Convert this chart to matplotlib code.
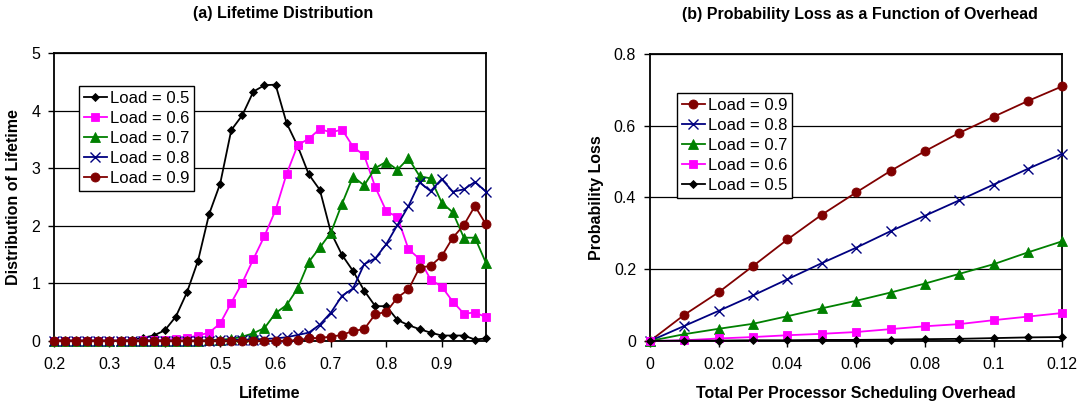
import numpy as np
import matplotlib
matplotlib.use("Agg")
import matplotlib.pyplot as plt

plt.rcParams["font.family"] = ["Liberation Sans", "DejaVu Sans"]

# ---------------------------------------------------------------------------
# Data: (a) lifetime distribution, lifetime 0.20 .. 0.98 step 0.02
# ---------------------------------------------------------------------------
lifetime = np.round(np.arange(0.20, 0.981, 0.02), 2)

dist_05 = [0, 0, 0, 0, 0, 0, 0, 0.01, 0.05, 0.09,
           0.18, 0.42, 0.84, 1.39, 2.20, 2.73, 3.66, 3.92, 4.33, 4.44,
           4.45, 3.78, 3.38, 2.89, 2.62, 1.88, 1.49, 1.21, 0.87, 0.60,
           0.60, 0.36, 0.27, 0.20, 0.14, 0.09, 0.09, 0.09, 0.02, 0.04]
dist_06 = [0, 0, 0, 0, 0, 0, 0, 0, 0.01, 0.01,
           0.02, 0.03, 0.05, 0.09, 0.14, 0.30, 0.66, 1.01, 1.42, 1.82,
           2.27, 2.90, 3.40, 3.51, 3.68, 3.62, 3.67, 3.37, 3.22, 2.67,
           2.25, 2.15, 1.59, 1.42, 1.06, 0.94, 0.68, 0.47, 0.49, 0.41]
dist_07 = [0, 0, 0, 0, 0, 0, 0, 0, 0, 0,
           0, 0, 0, 0, 0.01, 0.02, 0.03, 0.07, 0.13, 0.22,
           0.48, 0.62, 0.91, 1.37, 1.62, 1.88, 2.38, 2.85, 2.70, 3.00,
           3.11, 2.97, 3.17, 2.86, 2.82, 2.40, 2.23, 1.79, 1.79, 1.35]
dist_08 = [0, 0, 0, 0, 0, 0, 0, 0, 0, 0,
           0, 0, 0, 0, 0, 0.01, 0.01, 0.02, 0.02, 0.03,
           0.04, 0.06, 0.10, 0.14, 0.28, 0.49, 0.78, 0.91, 1.33, 1.43,
           1.68, 2.01, 2.34, 2.75, 2.60, 2.81, 2.59, 2.63, 2.76, 2.59]
dist_09 = [0, 0, 0, 0, 0, 0, 0, 0, 0, 0,
           0, 0, 0, 0, 0, 0, 0, 0, 0, 0,
           0, 0, 0.01, 0.04, 0.05, 0.07, 0.10, 0.17, 0.20, 0.46,
           0.50, 0.75, 0.89, 1.27, 1.30, 1.47, 1.79, 2.01, 2.34, 2.02]

# ---------------------------------------------------------------------------
# Data: (b) probability loss vs. scheduling overhead
# ---------------------------------------------------------------------------
overhead = np.round(np.arange(0, 0.121, 0.01), 2)

loss_09 = [0, 0.073, 0.136, 0.209, 0.283, 0.352, 0.414, 0.474, 0.529, 0.580, 0.625, 0.669, 0.710]
loss_08 = [0, 0.042, 0.084, 0.127, 0.172, 0.217, 0.260, 0.306, 0.349, 0.392, 0.436, 0.480, 0.522]
loss_07 = [0, 0.019, 0.034, 0.048, 0.069, 0.091, 0.112, 0.135, 0.160, 0.187, 0.214, 0.247, 0.278]
loss_06 = [0, 0.002, 0.007, 0.011, 0.016, 0.020, 0.025, 0.033, 0.041, 0.047, 0.058, 0.068, 0.078]
loss_05 = [0, 0.001, 0.001, 0.002, 0.002, 0.003, 0.003, 0.004, 0.005, 0.006, 0.008, 0.010, 0.011]

# series styles: load -> (color, marker, size)
STYLE = {
    "0.5": ("black", "D", 4.5),
    "0.6": ("#FF00FF", "s", 6),
    "0.7": ("#008000", "^", 6.5),
    "0.8": ("#000080", "x", 6.5),
    "0.9": ("#800000", "o", 6.5),
}


def draw_series(ax, x, y, load):
    color, marker, ms = STYLE[load]
    ax.plot(x, y, color=color, marker=marker, markersize=ms, linewidth=1.3,
            markeredgewidth=1.0 if marker == "x" else 0.6,
            label=f"Load = {load}", clip_on=False, zorder=3)


def style_axes(ax):
    for sp in ax.spines.values():
        sp.set_color("black")
        sp.set_linewidth(1.3)
    ax.grid(axis="y", color="black", linewidth=0.9, zorder=0)
    ax.set_axisbelow(True)
    ax.tick_params(direction="out", length=4, width=1, labelsize=11.5, colors="black")
    ax.tick_params(axis="x", pad=7.5)
    ax.tick_params(axis="y", pad=6)


def add_legend(ax, anchor):
    leg = ax.legend(loc="upper left", bbox_to_anchor=anchor, fontsize=12,
                    handlelength=1.4, handletextpad=0.15, borderpad=0.3,
                    labelspacing=0.3, fancybox=False, framealpha=1, borderaxespad=0)
    leg.get_frame().set_edgecolor("black")
    leg.get_frame().set_linewidth(1.0)
    return leg


fig = plt.figure(figsize=(10.81, 4.07), dpi=100)

# (a)
ax1 = fig.add_axes([0.0500, 0.1629, 0.3996, 0.7069])
draw_series(ax1, lifetime, dist_05, "0.5")
draw_series(ax1, lifetime, dist_06, "0.6")
draw_series(ax1, lifetime, dist_07, "0.7")
draw_series(ax1, lifetime, dist_08, "0.8")
draw_series(ax1, lifetime, dist_09, "0.9")
ax1.set_xlim(0.2, 0.98)
ax1.set_ylim(0, 5)
ax1.set_xticks(np.round(np.arange(0.2, 0.91, 0.1), 1))
ax1.set_xticklabels([f"{v:.1f}" for v in np.arange(0.2, 0.91, 0.1)])
ax1.set_yticks(range(6))
style_axes(ax1)
ax1.set_xlabel("Lifetime", fontsize=11.5, fontweight="bold", labelpad=10)
ax1.set_ylabel("Distribution of Lifetime", fontsize=11.5, fontweight="bold", labelpad=7)
ax1.set_title("(a) Lifetime Distribution", fontsize=11.5, fontweight="bold", pad=25, x=0.53)
add_legend(ax1, (0.057, 0.885))

# (b)
ax2 = fig.add_axes([0.6013, 0.1622, 0.3814, 0.7052])
draw_series(ax2, overhead, loss_09, "0.9")
draw_series(ax2, overhead, loss_08, "0.8")
draw_series(ax2, overhead, loss_07, "0.7")
draw_series(ax2, overhead, loss_06, "0.6")
draw_series(ax2, overhead, loss_05, "0.5")
ax2.set_xlim(0, 0.12)
ax2.set_ylim(0, 0.8)
ax2.set_xticks(np.round(np.arange(0, 0.121, 0.02), 2))
ax2.set_xticklabels(["0", "0.02", "0.04", "0.06", "0.08", "0.1", "0.12"])
ax2.set_yticks([0, 0.2, 0.4, 0.6, 0.8])
ax2.set_yticklabels(["0", "0.2", "0.4", "0.6", "0.8"])
style_axes(ax2)
ax2.set_xlabel("Total Per Processor Scheduling Overhead", fontsize=11.5, fontweight="bold", labelpad=10)
ax2.set_ylabel("Probability Loss", fontsize=11.5, fontweight="bold", labelpad=7)
ax2.set_title("(b) Probability Loss as a Function of Overhead", fontsize=11.5,
              fontweight="bold", pad=25, x=0.51)
add_legend(ax2, (0.065, 0.865))

fig.savefig("out.png", dpi=100)
